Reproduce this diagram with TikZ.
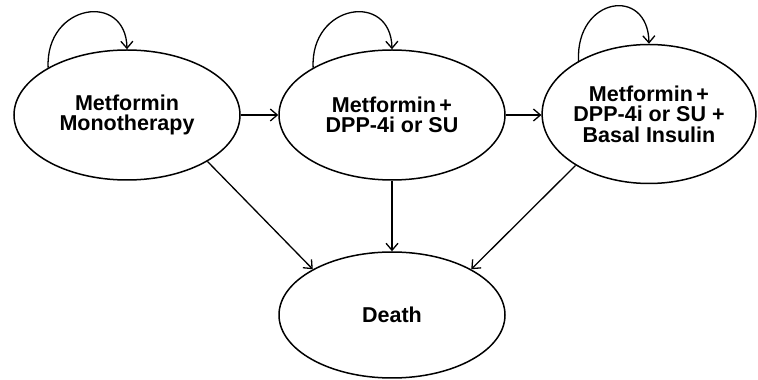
\documentclass[tikz,border=0pt]{standalone}
\usepackage{fontspec}
\setmainfont{Liberation Sans}
\usetikzlibrary{shapes.geometric,arrows.meta}
\begin{document}
\begin{tikzpicture}[x=1pt,y=1pt,
  state/.style={draw,ellipse,line width=1.5pt,inner sep=0pt,align=center,
    font=\fontsize{21.5}{20.5}\selectfont\bfseries},
  arr/.style={line width=1.3pt,-{Straight Barb[length=7pt,width=12pt,line width=1.3pt]}}]
\useasboundingbox (0,0) rectangle (758,380);
\node[state,minimum width=226,minimum height=130] (e1) at (127,265) {Metformin\\Monotherapy};
\node[state,minimum width=226,minimum height=130] (e2) at (392,265) {Metformin\,+\\DPP-4i or SU};
\node[state,minimum width=212,minimum height=139] (e3) at (649,266) {Metformin\,+\\DPP-4i or SU +\\Basal Insulin};
\node[state,minimum width=226,minimum height=126] (d) at (392,65) {Death};
\draw[arr] (e1.east) -- (e2.west);
\draw[arr] (e2.east) -- (e2.east -| e3.west);
\draw[arr] (e2.south) -- (d.north);
\draw[arr] (e1.-30) -- (d.150);
\draw[arr] (e3.215) -- (d.30);
\draw[arr] (e1.149) .. controls +(-3,64) and +(-1,58) .. (e1.north);
\draw[arr] (e2.149) .. controls +(-3,64) and +(-1,58) .. (e2.north);
\draw[arr] (e3.143) .. controls +(-3,64) and +(-1,58) .. (e3.north);
\end{tikzpicture}
\end{document}
